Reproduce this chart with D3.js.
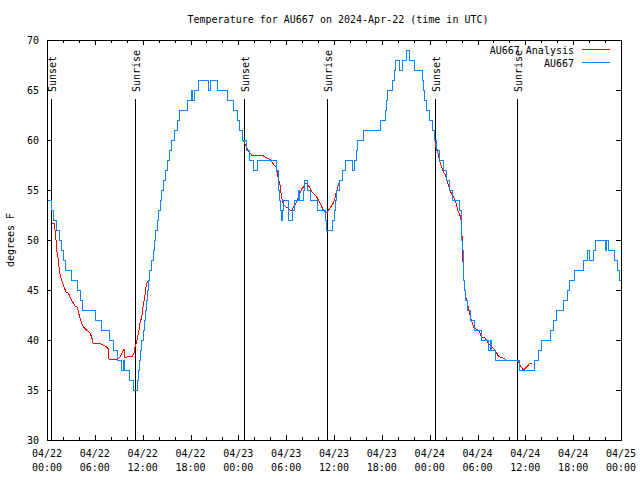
<!DOCTYPE html>
<html><head><meta charset="utf-8">
<script src="https://cdn.jsdelivr.net/npm/d3@7"></script>
<style>
body{margin:0;background:#fff;}
text{font-family:"DejaVu Sans Mono",monospace;font-size:10px;fill:#000;}
</style></head><body>
<svg id="c" width="640" height="480"></svg>
<script>
const title = "Temperature for AU667 on 2024-Apr-22 (time in UTC)";
const yLabel = "degrees F";
const seriesNames = ["AU667 Analysis", "AU667"];
const seriesColors = ["#ff0000", "#0a84ff"];
const yTicks = [30, 35, 40, 45, 50, 55, 60, 65, 70];
const xTickHours = [0, 6, 12, 18, 24, 30, 36, 42, 48, 54, 60, 66, 72];
const xTickDates = ["04/22","04/22","04/22","04/22","04/23","04/23","04/23","04/23","04/24","04/24","04/24","04/24","04/25"];
const xTickTimes = ["00:00","06:00","12:00","18:00","00:00","06:00","12:00","18:00","00:00","06:00","12:00","18:00","00:00"];
const xMinorHours = [2,4,8,10,14,16,20,22,26,28,32,34,38,40,44,46,50,52,56,58,62,64,68,70];
const eventNames = ["Sunset","Sunrise","Sunset","Sunrise","Sunset","Sunrise"];
const eventHours = [0.55, 11.1, 24.65, 35.07, 48.72, 59.0];

// AU667 observations (hours after 2024-04-22 00:00 UTC, degrees F), change points
const obsHours = [0.15,0.55,0.8,1.2,1.6,1.85,2.1,2.35,3.1,3.8,4.15,4.4,6.05,6.8,7.85,8.3,8.9,9.35,9.55,9.68,10.4,10.8,
11.3,11.45,11.6,11.75,11.9,12.05,12.2,12.35,12.5,12.6,12.7,12.9,13.1,13.3,13.5,13.65,13.85,14.0,14.2,14.4,14.6,14.85,15.1,15.35,15.6,16.05,16.4,16.65,17.6,18.1,18.2,18.5,18.95,20.3,20.5,21.35,22.6,23.35,23.9,24.2,24.5,
25.0,25.4,25.9,26.35,28.85,29.0,29.1,29.2,29.3,29.45,29.6,29.7,30.35,30.85,31.05,31.5,31.62,32.12,32.35,32.65,33.05,33.95,34.9,35.05,35.85,36.0,36.15,36.35,36.7,37.05,37.4,38.3,38.55,38.8,39.0,
39.75,41.8,42.5,42.6,42.7,43.4,43.6,43.75,44.2,44.55,45.1,45.5,46.05,47.05,47.2,47.4,47.6,47.95,48.3,48.65,48.9,49.25,49.75,50.1,50.45,50.9,51.75,51.95,52.0,52.05,52.1,52.2,52.25,52.3,52.4,52.5,52.75,53.1,53.65,54.5,55.4,55.65,55.75,56.3,59.3,
61.15,61.6,62.0,63.2,63.5,63.9,64.8,65.25,65.55,66.2,67.3,67.75,68.1,68.55,68.85,70.05,70.15,70.45,71.2,71.5,71.85,71.95];
const obsTemps = [54,53,52,51,50,49,48,47,46,45,44,43,42,41,40,39,38,37,38,37,36,35,
36,37,38,39,40,41,42,43,44,45,46,47,48,49,50,51,52,53,54,55,56,57,58,59,60,61,62,63,64,65,64,65,66,65,66,65,64,63,62,61,60,
59,58,57,58,57,56,55,54,53,52,53,54,52,53,54,55,54,55,56,55,54,53,52,51,52,53,54,55,56,57,58,57,58,59,60,
61,62,63,64,65,66,67,68,67,68,69,68,67,66,65,64,63,62,61,60,59,58,57,56,55,54,53,52,51,50,49,48,47,46,45,44,43,42,41,40,39,40,39,38,37,
38,39,40,41,42,43,44,45,46,47,48,49,48,49,50,49,50,49,48,47,46,46];

// AU667 Analysis (null = gap)
const anaHours = [0.58,0.88,1.0,1.13,1.21,1.42,1.55,1.71,1.92,2.13,2.38,2.68,2.89,3.09,3.3,3.51,3.8,3.93,4.14,4.35,4.56,4.97,5.39,5.6,5.81,6.44,7.07,7.48,7.69,7.78,8.94,9.16,9.37,9.66,9.78,10.08,10.41,10.75,10.91,11.04,11.25,11.37,11.54,11.67,11.88,12.08,12.29,12.42,12.58,12.83,13.0,
24.62,24.85,25.05,25.25,25.46,25.68,26.93,27.56,28.06,28.48,28.73,28.89,29.06,29.23,29.35,29.52,29.73,29.94,30.27,30.48,30.69,30.9,31.32,31.53,31.74,31.95,32.15,32.36,32.58,32.99,33.2,33.41,33.83,34.03,34.24,34.46,34.66,35.09,35.5,35.91,36.13,36.25,36.42,36.59,36.75,37.0,
48.67,48.8,48.96,49.3,49.51,49.71,49.92,50.05,50.34,50.55,50.76,50.96,51.17,51.38,51.59,51.71,51.9,52.0,52.05,52.1,52.15,52.22,52.35,52.52,52.65,52.85,53.15,53.35,53.56,54.1,54.31,54.53,54.94,55.36,55.78,56.2,56.41,56.61,56.82,57.24,57.58,58.96,59.12,59.33,59.55,59.75,60.17,60.58,60.8];
const anaTemps = [51.7,51.7,51,50,49,48,47,46.3,45.8,45.3,44.8,44.7,44.3,44,43.7,43.4,43.3,42.8,42.2,41.7,41.3,41,40.7,40.3,39.6,39.7,39.5,39.3,39.1,38.1,38.1,38.3,38.6,39.1,38.2,38.3,38.4,38.4,38.7,39.3,39.8,40.3,41,41.7,42.3,43.5,44.5,45.3,45.8,45.9,null,
60,59.6,59.2,58.9,58.7,58.5,58.5,58.2,58,57.5,57.3,56.7,56,55.5,54.7,53.9,53.5,53.3,53.2,53,52.9,53.3,53.8,54.3,54.7,55.1,55.3,55.6,55.7,55.2,54.8,54.7,54.3,54,53.7,53.3,53,52.7,53.2,53.7,54.2,54.7,55.1,55.7,55.7,null,
59.8,59.2,59,57.8,57.3,56.8,56.6,56.3,55.5,55,54.6,54.4,54,53.5,52.8,52.7,52.2,51.5,50.5,50,48.5,47,45.5,44.3,44,43.2,42.2,41.7,41.2,41,40.7,40.3,40.2,39.7,39.3,39,38.7,38.4,38.3,38.2,38,38,37.8,37.5,37.2,37,37.3,37.7,37.7];

const svg = d3.select("#c");
svg.append("rect").attr("width", 640).attr("height", 480).attr("fill", "#fff");
const L = 47, R = 621, T = 40, B = 440;
const x = d3.scaleLinear().domain([0, 72]).range([L, R]);
const y = d3.scaleLinear().domain([30, 70]).range([B, T]);

const g = svg.append("g").attr("shape-rendering", "crispEdges");
function ticks(axis, vals, size, tr) {
  const gg = g.append("g").attr("transform", tr)
    .call(axis.tickValues(vals).tickSizeInner(-size).tickSizeOuter(0).tickFormat(""));
  gg.select(".domain").remove();
  gg.selectAll("line").attr("stroke", "#000");
}
ticks(d3.axisBottom(x), xTickHours, 5, `translate(0,${B})`);
ticks(d3.axisBottom(x), xMinorHours, 3, `translate(0,${B})`);
ticks(d3.axisTop(x), xTickHours, 5, `translate(0,${T})`);
ticks(d3.axisTop(x), xMinorHours, 3, `translate(0,${T})`);
ticks(d3.axisLeft(y), yTicks, 5, `translate(${L},0)`);
ticks(d3.axisRight(y), yTicks, 5, `translate(${R},0)`);

// event lines
g.selectAll(".ev").data(eventHours).enter().append("line")
  .attr("x1", d => Math.round(x(d)) + 0.5).attr("x2", d => Math.round(x(d)) + 0.5)
  .attr("y1", 99).attr("y2", B).attr("stroke", "#000");
svg.selectAll(".evt").data(eventHours).enter().append("text")
  .attr("transform", d => `translate(${Math.round(x(d)) + 4.5},92) rotate(-90)`)
  .attr("text-anchor", "start").text((d, i) => eventNames[i]);

// series
const anaData = anaHours.map((h, i) => [h, anaTemps[i]]);
const obsData = obsHours.map((h, i) => [h, obsTemps[i]]);
svg.append("path").datum(anaData)
  .attr("d", d3.line().defined(d => d[1] !== null).x(d => x(d[0])).y(d => y(d[1])))
  .attr("fill", "none").attr("stroke", seriesColors[0]).attr("stroke-width", 1)
  .attr("shape-rendering", "crispEdges");
svg.append("path").datum(obsData)
  .attr("d", d3.line().curve(d3.curveStepAfter).x(d => x(d[0])).y(d => y(d[1])))
  .attr("fill", "none").attr("stroke", seriesColors[1]).attr("stroke-width", 1)
  .attr("shape-rendering", "crispEdges");

// border
g.append("rect").attr("x", L + 0.5).attr("y", T + 0.5).attr("width", R - L).attr("height", B - T)
  .attr("fill", "none").attr("stroke", "#000");

// tick labels
svg.selectAll(".xl1").data(xTickHours).enter().append("text")
  .attr("x", d => x(d)).attr("y", 457).attr("text-anchor", "middle").text((d, i) => xTickDates[i]);
svg.selectAll(".xl2").data(xTickHours).enter().append("text")
  .attr("x", d => x(d)).attr("y", 471).attr("text-anchor", "middle").text((d, i) => xTickTimes[i]);
svg.selectAll(".yl").data(yTicks).enter().append("text")
  .attr("x", 39).attr("y", d => y(d) + 4).attr("text-anchor", "end").text(d => d);

// title and axis label
svg.append("text").attr("x", 338).attr("y", 23).attr("text-anchor", "middle").text(title);
svg.append("text").attr("transform", "translate(14,240) rotate(-90)").attr("text-anchor", "middle").text(yLabel);

// legend
const lg = svg.append("g");
seriesNames.forEach((n, i) => {
  lg.append("text").attr("x", 574).attr("y", 54 + i * 13).attr("text-anchor", "end").text(n);
  lg.append("line").attr("x1", 582).attr("x2", 610).attr("y1", 49.5 + i * 13).attr("y2", 49.5 + i * 13)
    .attr("stroke", seriesColors[i]).attr("shape-rendering", "crispEdges");
});
</script>
</body></html>
